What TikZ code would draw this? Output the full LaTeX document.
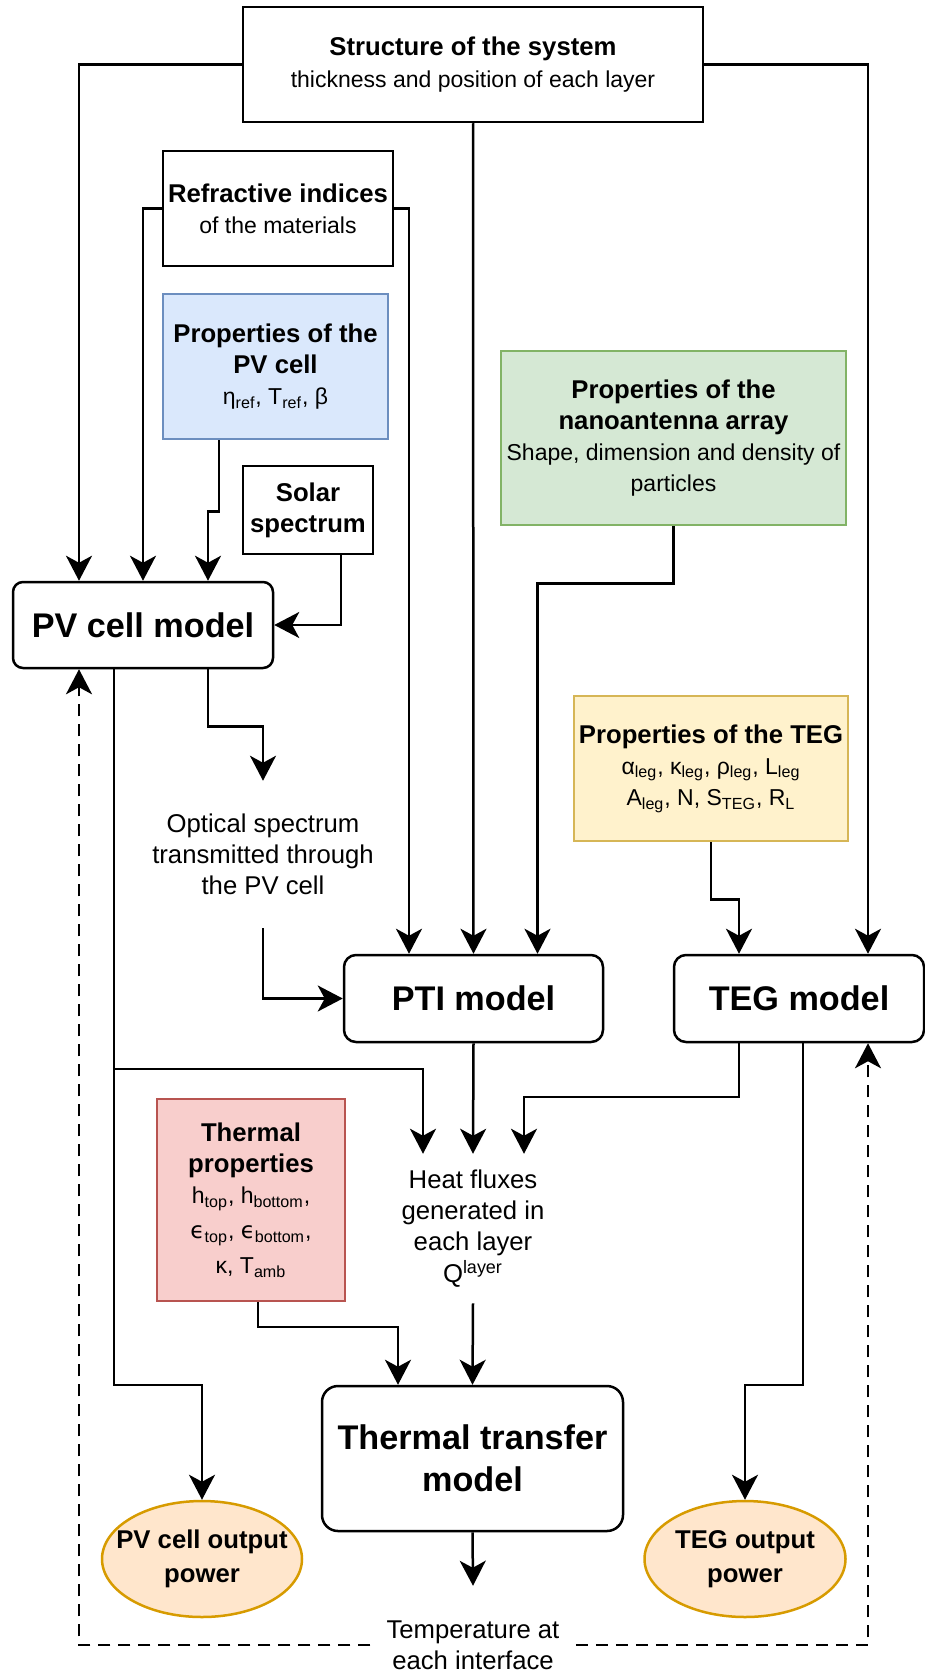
\documentclass[tikz,border=0pt]{standalone}
\usepackage{fontspec}
\setmainfont{Liberation Sans}
\newfontfamily\epsfont{DejaVu Sans}
\usepackage{xcolor}
\usetikzlibrary{calc, shapes.geometric, arrows.meta}

\definecolor{pvfill}{HTML}{DAE8FC}   \definecolor{pvdraw}{HTML}{6C8EBF}
\definecolor{nanofill}{HTML}{D5E8D4} \definecolor{nanodraw}{HTML}{82B366}
\definecolor{tegfill}{HTML}{FFF2CC}  \definecolor{tegdraw}{HTML}{D6B656}
\definecolor{thfill}{HTML}{F8CECC}   \definecolor{thdraw}{HTML}{B85450}
\definecolor{outfill}{HTML}{FFE6CC}  \definecolor{outdraw}{HTML}{D79B00}

\newcommand{\fbig}{\fontsize{12.85}{15.6}\selectfont}
\newcommand{\fsmall}{\fontsize{11.5}{15.6}\selectfont}
\newcommand{\ftitle}{\fontsize{17.1}{21}\selectfont\bfseries}
\newcommand{\eps}{{\epsfont ϵ}}

\begin{document}
\begin{tikzpicture}[x=0.5pt, y=-0.5pt, line width=1.25pt,
    >={Stealth[length=12.5pt, width=13pt, inset=3.5pt]},
    every node/.style={font=\fbig, align=center, inner sep=0pt},
    box/.style={draw, rectangle},
    model/.style={draw, rectangle, rounded corners=5pt, font=\ftitle},
    txt/.style={rectangle},
    outp/.style={draw=outdraw, fill=outfill, ellipse, inner xsep=-8pt,
        font=\fontsize{12.85}{17}\selectfont\bfseries},
    fb/.style={dash pattern=on 6pt off 4pt}]
    \useasboundingbox (0,0) rectangle (925,1675);

    % Các khối dữ liệu vào
    \node[box, minimum width=230pt, minimum height=57.5pt] (struct) at (473,64.5)
        {\textbf{Structure of the system}\\{\fsmall thickness and position of each layer}};
    \node[box, minimum width=115pt, minimum height=57.5pt] (refr) at (278,208.5)
        {\textbf{Refractive indices}\\{\fsmall of the materials}};
    \node[box, draw=pvdraw, fill=pvfill, minimum width=112.5pt, minimum height=72.5pt] (pvprop) at (275.5,366.5)
        {\textbf{Properties of the}\\\textbf{PV cell}\\{\fsmall η\textsubscript{ref}, T\textsubscript{ref}, β}};
    \node[box, minimum width=65pt, minimum height=44pt, font=\fbig\bfseries] (solar) at (308,510)
        {Solar\\spectrum};
    \node[box, draw=nanodraw, fill=nanofill, minimum width=172.5pt, minimum height=87pt] (nano) at (673.5,438)
        {\textbf{Properties of the}\\\textbf{nanoantenna array}\\{\fsmall Shape, dimension and density of}\\{\fsmall particles}};
    \node[box, draw=tegdraw, fill=tegfill, minimum width=137pt, minimum height=72.5pt] (tegprop) at (711,768.5)
        {\textbf{Properties of the TEG}\\{\fsmall α\textsubscript{leg}, κ\textsubscript{leg}, ρ\textsubscript{leg}, L\textsubscript{leg}}\\{\fsmall A\textsubscript{leg}, N, S\textsubscript{TEG}, R\textsubscript{L}}};
    \node[box, draw=thdraw, fill=thfill, minimum width=94pt, minimum height=101pt] (thprop) at (251,1200)
        {\textbf{Thermal}\\\textbf{properties}\\{\fsmall h\textsubscript{top}, h\textsubscript{bottom},}\\[2pt]{\fsmall \eps\textsubscript{top}, \eps\textsubscript{bottom},}\\[2pt]{\fsmall κ, T\textsubscript{amb}}};

    % Các mô hình
    \node[model, minimum width=130pt, minimum height=43pt] (pvmodel) at (143,625) {PV cell model};
    \node[model, minimum width=129.5pt, minimum height=43.5pt, rounded corners=6pt] (pti) at (473.5,998.5) {PTI model};
    \node[model, minimum width=125pt, minimum height=43.5pt, rounded corners=6pt] (tegmodel) at (799,998.5) {TEG model};
    \node[model, minimum width=150.5pt, minimum height=72.5pt, rounded corners=8pt] (transfer) at (472.5,1458.5)
        {Thermal transfer\\model};

    % Kết quả trung gian
    \node[txt, minimum height=72.5pt] (optical) at (263,854.5)
        {Optical spectrum\\transmitted through\\the PV cell};
    \node[txt, minimum height=73.5pt] (heat) at (473,1228.5)
        {Heat fluxes\\generated in\\each layer\\Q\textsuperscript{layer}};
    \node[txt, minimum width=101.5pt, minimum height=58pt] (temp) at (473,1645)
        {Temperature at\\each interface};

    % Công suất ra
    \node[outp, minimum width=100pt, minimum height=58pt] (pvout) at (202,1559) {PV cell output\\power};
    \node[outp, minimum width=100.5pt, minimum height=58pt] (tegout) at (745,1559) {TEG output\\power};

    % Mũi tên vào PV cell model
    \draw[->] (struct.west) -| ($(pvmodel.north)+(-64,0)$);
    \draw[->] (refr.west) -| (pvmodel.north);
    \draw[->] ($(pvprop.south)+(-56.5,0)$) -- ++(0,71) -| ($(pvmodel.north)+(65,0)$);
    \draw[->] ($(solar.south)+(33,0)$) |- (pvmodel.east);

    % Mũi tên vào PTI model
    \draw[->] (refr.east) -| ($(pti.north)+(-64.5,0)$);
    \draw[->] (struct.south) -- (pti.north);
    \draw[->] (nano.south) -- ++(0,57) -| ($(pti.north)+(64,0)$);
    \draw[->] ($(pvmodel.south)+(65,0)$) -- ++(0,57) -| (optical.north);
    \draw[->] (optical.south) |- (pti.west);

    % Mũi tên vào TEG model
    \draw[->] (struct.east) -| ($(tegmodel.north)+(69,0)$);
    \draw[->] (tegprop.south) -- ++(0,57) -| ($(tegmodel.north)+(-60,0)$);

    % Dòng nhiệt
    \draw[->] ($(pvmodel.south)+(-29,0)$) |- ($(heat.north)+(-50,-85)$) -- ($(heat.north)+(-50,0)$);
    \draw[->] (pti.south) -- (heat.north);
    \draw[->] ($(tegmodel.south)+(-60,0)$) |- ($(heat.north)+(51,-57)$) -- ($(heat.north)+(51,0)$);

    % Truyền nhiệt
    \draw[->] ($(thprop.south)+(7,0)$) |- ($(transfer.north)+(-74.5,-58)$) -- ($(transfer.north)+(-74.5,0)$);
    \draw[->] (heat.south) -- (transfer.north);
    \draw[->] (transfer.south) -- (temp.north);

    % Công suất ra
    \draw[->] ($(pvmodel.south)+(-29,0)$) |- ($(pvout.north)+(0,-115)$) -- (pvout.north);
    \draw[->] ($(tegmodel.south)+(4,0)$) |- ($(tegout.north)+(0,-115)$) -- (tegout.north);

    % Phản hồi nhiệt độ (nét đứt)
    \draw[->, fb] (temp.west) -| ($(pvmodel.south)+(-64,0)$);
    \draw[->, fb] (temp.east) -| ($(tegmodel.south)+(69,0)$);
\end{tikzpicture}
\end{document}
